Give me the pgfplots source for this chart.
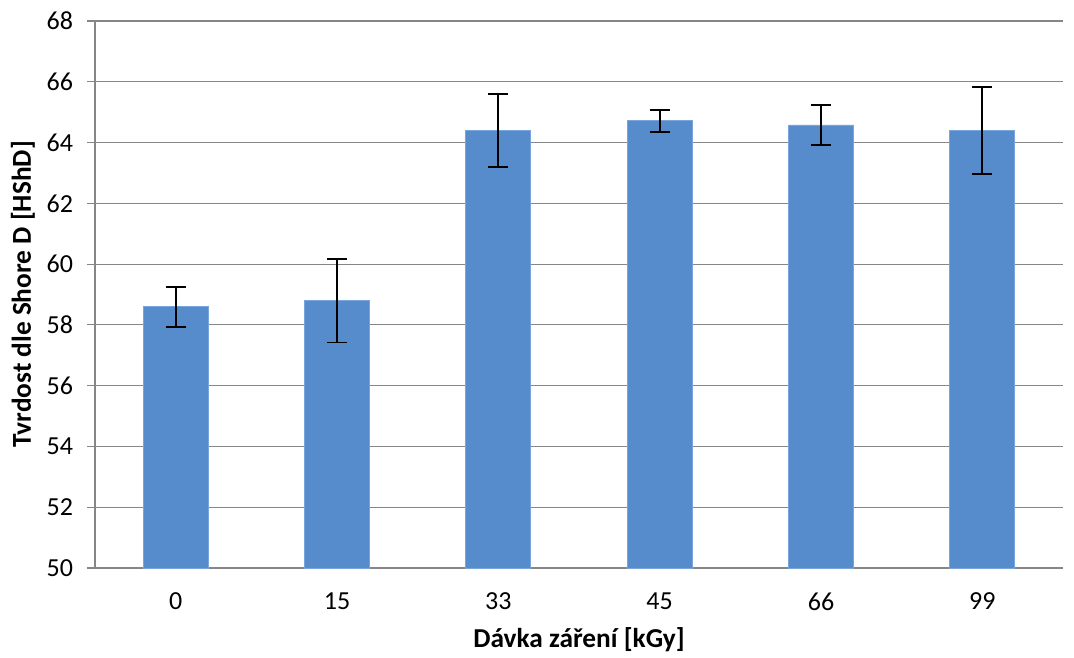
\documentclass[border=0pt]{standalone}
\usepackage{pgfplots}
\pgfplotsset{compat=1.18}
\usepackage{fontspec}
\setmainfont{Carlito}
\definecolor{barblue}{RGB}{86,140,204}
\definecolor{baredge}{RGB}{120,165,220}
\definecolor{gridgray}{RGB}{134,134,134}
\begin{document}
\begin{tikzpicture}
\begin{axis}[
  name=ax,
  scale only axis,
  width=726pt, height=410.25pt,
  xmin=-0.5, xmax=5.5,
  ymin=50, ymax=68,
  ytick={50,52,...,68},
  xtick={0,1,2,3,4,5},
  xticklabels={0,15,33,45,66,99},
  extra x ticks={-0.5,0.5,1.5,2.5,3.5,4.5,5.5},
  extra x tick labels={},
  extra x tick style={major tick length=6pt, tick style={gridgray, line width=0.9pt}},
  axis x line*=bottom,
  axis y line*=left,
  axis line style={gridgray, line width=0.9pt, -},
  ymajorgrids,
  grid style={gridgray, line width=0.9pt},
  tick align=outside,
  major tick length=6pt,
  x tick style={draw=none},
  y tick style={gridgray, line width=0.9pt},
  /pgf/number format/assume math mode=true,
  tick label style={font=\fontsize{19.5pt}{21pt}\selectfont, text=black},
  yticklabel style={xshift=-7pt},
  xticklabel style={yshift=-9pt},
  ylabel={\bfseries Tvrdost dle Shore D [HShD]},
  xlabel={\bfseries Dávka záření [kGy]},
  label style={font=\fontsize{20.5pt}{22pt}\selectfont},
  ylabel style={at={(axis description cs:-0.0744,0.5)}, anchor=center, rotate=0},
  xlabel style={at={(axis description cs:0.5,-0.1316)}, anchor=center},
  clip=false,
]
\addplot[
  ybar, bar width=48.75pt, fill=barblue, draw=baredge, line width=0.6pt,
  error bars/.cd, y dir=both, y explicit,
  error bar style={black, line width=1.4pt},
  error mark options={black, rotate=90, mark size=7.5pt, line width=1.4pt},
] table[x=x, y=y, y error=e] {
x y e
0 58.60 0.66
1 58.80 1.38
2 64.40 1.21
3 64.72 0.36
4 64.58 0.66
5 64.40 1.43
};
\end{axis}
\pgfresetboundingbox
\path (ax.south west) ++(-71.25pt,-66.75pt) coordinate (bl);
\path (ax.north east) ++(8.25pt,15.75pt) coordinate (tr);
\path (bl) rectangle (tr);
\end{tikzpicture}
\end{document}
